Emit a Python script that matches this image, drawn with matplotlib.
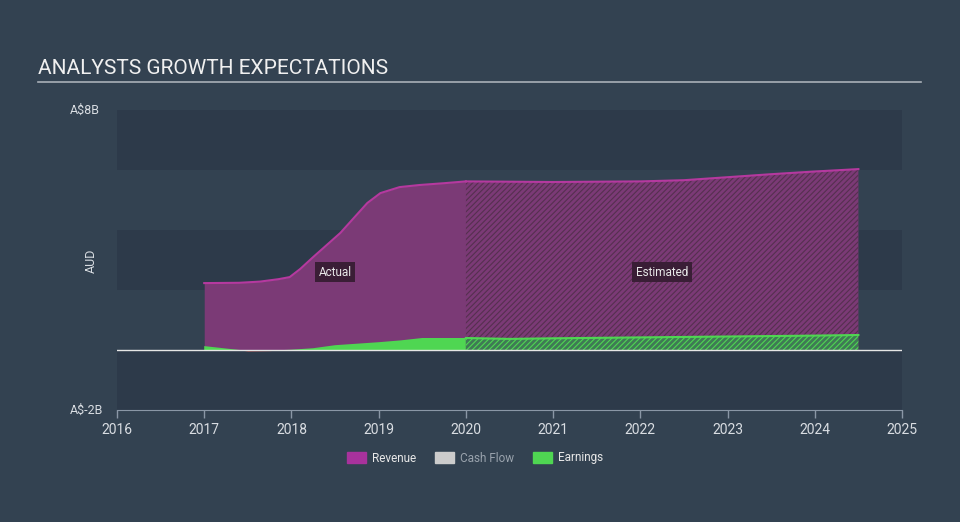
import numpy as np
import matplotlib.pyplot as plt
from matplotlib.patches import Patch

plt.rcParams['font.family'] = ['Roboto', 'DejaVu Sans']
plt.rcParams['hatch.linewidth'] = 0.8

# Revenue (A$ billions)
rev_years_act = [2017.0, 2017.4, 2017.64, 2017.85, 2017.98, 2018.1, 2018.25, 2018.56,
                 2018.87, 2019.02, 2019.24, 2019.47, 2019.75, 2020.0]
rev_act = [2.23, 2.24, 2.28, 2.36, 2.43, 2.7, 3.1, 3.9, 4.9, 5.23, 5.43, 5.5, 5.56, 5.62]
rev_years_est = [2020.0, 2021.0, 2022.0, 2022.5, 2023.0, 2023.5, 2024.0, 2024.5]
rev_est = [5.62, 5.6, 5.62, 5.66, 5.76, 5.86, 5.95, 6.03]

# Earnings (A$ billions)
earn_years_act = [2017.0, 2017.25, 2017.5, 2017.75, 2018.0, 2018.25, 2018.5,
                  2019.0, 2019.25, 2019.5, 2020.0]
earn_act = [0.13, 0.05, -0.03, -0.02, 0.01, 0.06, 0.16, 0.26, 0.32, 0.4, 0.4]
earn_years_est = [2020.0, 2020.5, 2021.0, 2022.0, 2023.0, 2024.0, 2024.5]
earn_est = [0.4, 0.37, 0.39, 0.42, 0.45, 0.48, 0.5]

x_ticks = [2016, 2017, 2018, 2019, 2020, 2021, 2022, 2023, 2024, 2025]

fig_bg = '#334251'
band_dark = '#2d3a4a'
band_light = '#334251'
rev_fill = '#7b3a76'
rev_line = '#b5399f'
earn_col = '#4fd652'
neg_col = '#e0483b'
text_col = '#d9dde2'

fig = plt.figure(figsize=(9.6, 5.22), dpi=100, facecolor=fig_bg)
ax = fig.add_axes([117 / 960, 112 / 522, 785 / 960, 300 / 522])
ax.set_facecolor(band_light)

# horizontal bands
for lo in [-2, 2, 6]:
    ax.axhspan(lo, lo + 2, color=band_dark, lw=0, zorder=0)

# revenue
ax.fill_between(rev_years_act, 0, rev_act, color=rev_fill, lw=0, zorder=2)
ax.plot(rev_years_act, rev_act, color=rev_line, lw=1.5, zorder=3)
ax.fill_between(rev_years_est, 0, rev_est, facecolor=rev_fill, edgecolor='#55304f',
                hatch='//////', lw=0, zorder=2)
ax.plot(rev_years_est, rev_est, color=rev_line, lw=1.5, zorder=3)

# earnings
ea = np.array(earn_act)
ax.fill_between(earn_years_act, 0, ea, where=ea >= 0, interpolate=True,
                color=earn_col, lw=0, zorder=4)
ax.fill_between(earn_years_act, 0, ea, where=ea < 0, interpolate=True,
                color=neg_col, lw=0, zorder=4)
ax.fill_between(earn_years_est, 0, earn_est, facecolor='#3f7a55', edgecolor=earn_col,
                hatch='//////', lw=0, zorder=4)
ax.plot(earn_years_est, earn_est, color=earn_col, lw=1.5, zorder=5)

# zero line
ax.axhline(0, color='#e6e6e6', lw=1, zorder=6)

# labels
ax.text(2018.5, 2.6, 'Actual', color='#e8e8e8', fontsize=8.5, ha='center', va='center',
        bbox=dict(boxstyle='square,pad=0.3', fc='#3a1e36', ec='none'), zorder=7)
ax.text(2022.25, 2.6, 'Estimated', color='#e8e8e8', fontsize=8.5, ha='center', va='center',
        bbox=dict(boxstyle='square,pad=0.3', fc='#3a1e36', ec='none'), zorder=7)

ax.set_xlim(2016, 2025)
ax.set_ylim(-2, 8)
ax.set_xticks(x_ticks)
ax.set_xticklabels([str(t) for t in x_ticks])
ax.set_yticks([])
for s in ['top', 'right', 'left']:
    ax.spines[s].set_visible(False)
ax.spines['bottom'].set_color('#8a97a6')
ax.tick_params(axis='x', colors='#8a97a6', labelcolor=text_col, labelsize=10,
               length=6, width=1)

fig.text(70 / 960, 1 - 110 / 522, 'A$8B', color=text_col, fontsize=9, ha='left', va='center')
fig.text(70 / 960, 1 - 410 / 522, 'A$-2B', color=text_col, fontsize=9, ha='left', va='center')
fig.text(91 / 960, 1 - 261 / 522, 'AUD', color=text_col, fontsize=9, ha='center', va='center',
         rotation=90)

# title
fig.text(38 / 960, 1 - 69 / 522, 'ANALYSTS GROWTH EXPECTATIONS', color='#f0f0f0',
         fontsize=15.0, ha='left', va='center')
fig.add_artist(plt.Line2D([38 / 960, 921 / 960], [1 - 82 / 522, 1 - 82 / 522],
                          color='#a9b0b8', lw=1.2))

# legend
handles = [Patch(color='#a8329c', label='Revenue'),
           Patch(color='#cccccc', label='Cash Flow'),
           Patch(color=earn_col, label='Earnings')]
leg = fig.legend(handles=handles, loc='center', bbox_to_anchor=(475 / 960, 1 - 458 / 522),
                 ncol=3, frameon=False, fontsize=8.5, handlelength=1.6, handleheight=1.0,
                 columnspacing=1.6, handletextpad=0.5)
for t, c in zip(leg.get_texts(), ['#e8e8e8', '#9aa3ad', '#e8e8e8']):
    t.set_color(c)

fig.savefig('out.png', dpi=100, facecolor=fig_bg)
